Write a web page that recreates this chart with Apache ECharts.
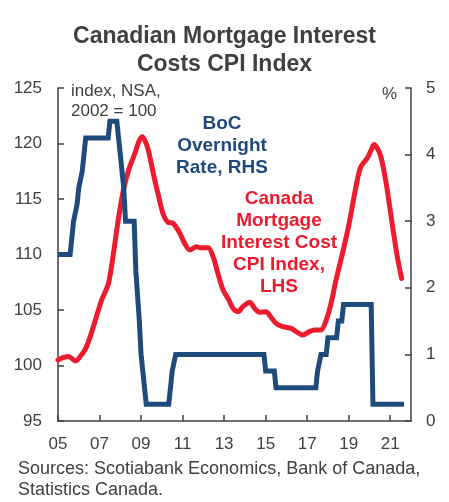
<!DOCTYPE html>
<html>
<head>
<meta charset="utf-8">
<script src="https://cdn.jsdelivr.net/npm/echarts@6/dist/echarts.min.js"></script>
<style>
html,body{margin:0;padding:0;background:#fff;}
#chart{width:449px;height:502px;}
</style>
</head>
<body>
<div id="chart"></div>
<script>
// Canada Mortgage Interest Cost CPI Index (LHS, index 2002=100)
const cpiYears = [2005.0,2005.25,2005.5,2005.85,2006.1,2006.3,2006.55,2006.9,2007.1,2007.43,2007.67,2007.9,2008.15,2008.4,2008.7,2008.9,2009.06,2009.2,2009.35,2009.6,2009.8,2010.07,2010.3,2010.55,2010.87,2011.1,2011.35,2011.67,2011.9,2012.23,2012.47,2012.7,2012.95,2013.2,2013.43,2013.67,2013.9,2014.23,2014.47,2014.7,2015.03,2015.2,2015.5,2015.83,2016.23,2016.47,2016.78,2017.1,2017.35,2017.67,2017.9,2018.15,2018.39,2018.7,2019.02,2019.35,2019.58,2019.9,2020.1,2020.22,2020.4,2020.55,2020.78,2021.02,2021.26,2021.4,2021.55];
const cpiValues = [100.5,100.7,100.8,100.4,100.9,101.4,102.6,104.7,105.9,107.4,110.1,113.1,115.8,117.6,119.1,120.2,120.6,120.2,119.4,117.2,115.6,113.6,112.9,112.8,111.9,111.0,110.4,110.7,110.6,110.6,109.8,108.3,106.8,106.0,105.15,104.85,105.3,105.7,105.15,104.8,104.85,104.5,103.8,103.5,103.35,103.05,102.75,103.05,103.2,103.2,104.0,105.6,107.7,110.1,112.8,116.1,117.9,118.7,119.5,119.9,119.5,118.8,116.7,113.7,110.7,109.2,107.85];

// BoC Overnight Rate (RHS, %)
const bocYears = [2005.0,2005.583,2005.667,2005.75,2005.833,2005.917,2006.0,2006.083,2006.167,2006.25,2006.333,2007.417,2007.5,2007.833,2007.917,2008.0,2008.083,2008.167,2008.25,2008.667,2008.75,2008.833,2008.917,2009.0,2009.083,2009.167,2009.25,2010.333,2010.417,2010.5,2010.583,2010.667,2014.917,2015.0,2015.417,2015.5,2017.417,2017.5,2017.583,2017.667,2017.917,2018.0,2018.417,2018.5,2018.667,2018.75,2020.083,2020.167,2021.667];
const bocValues = [2.5,2.5,2.75,3.0,3.0,3.25,3.5,3.5,3.75,4.0,4.25,4.25,4.5,4.5,4.25,4.0,4.0,3.5,3.0,3.0,2.25,2.25,1.5,1.0,1.0,0.5,0.25,0.25,0.5,0.75,0.75,1.0,1.0,0.75,0.75,0.5,0.5,0.75,0.75,1.0,1.0,1.25,1.25,1.5,1.5,1.75,1.75,0.25,0.25];

const xStartYear = 2005;
const xEndYear = 2022;
const xTickLabels = ['05','07','09','11','13','15','17','19','21'];
const leftTicks = [95,100,105,110,115,120,125];
const rightTicks = [0,1,2,3,4,5];

const RED = '#ED1B2E';
const BLUE = '#1F4A7C';
const GREY = '#404040';
const FF = 'Liberation Sans, Arial, sans-serif';

const cpiData = cpiYears.map((y,i)=>[y - xStartYear, cpiValues[i]]);
const bocData = bocYears.map((y,i)=>[y - xStartYear, bocValues[i]]);

const chart = echarts.init(document.getElementById('chart'), null, {renderer:'canvas'});
const axisFont = {fontFamily:FF, fontSize:17, color:GREY};

chart.setOption({
  animation:false,
  backgroundColor:'#fff',
  title:{
    text:'Canadian Mortgage Interest\nCosts CPI Index',
    left:'center', top:18,
    textStyle:{fontFamily:FF, fontSize:23, fontWeight:'bold', color:GREY, lineHeight:28}
  },
  grid:{left:58, right:38, top:88, bottom:81, containLabel:false},
  xAxis:{
    type:'value', min:0, max:xEndYear - xStartYear, interval:2,
    axisLine:{show:true, onZero:false, lineStyle:{color:GREY, width:1.5}},
    axisTick:{show:true, inside:true, length:6, lineStyle:{color:GREY, width:1.5}},
    axisLabel:{...axisFont, margin:15, showMaxLabel:false,
      formatter:(v)=>{const i=Math.round(v/2); return (Math.abs(v-i*2)<1e-6 && xTickLabels[i]) ? xTickLabels[i] : '';}},
    splitLine:{show:false}
  },
  yAxis:[
    {type:'value', position:'left', min:leftTicks[0], max:leftTicks[leftTicks.length-1], interval:5,
     axisLine:{show:true, lineStyle:{color:GREY, width:1.5}},
     axisTick:{show:true, inside:true, length:6, lineStyle:{color:GREY, width:1.5}},
     axisLabel:{...axisFont, margin:16},
     splitLine:{show:false}},
    {type:'value', position:'right', min:rightTicks[0], max:rightTicks[rightTicks.length-1], interval:1,
     axisLine:{show:true, lineStyle:{color:GREY, width:1.5}},
     axisTick:{show:true, inside:true, length:6, lineStyle:{color:GREY, width:1.5}},
     axisLabel:{...axisFont, margin:15},
     splitLine:{show:false}}
  ],
  series:[
    {name:'Canada Mortgage Interest Cost CPI Index', type:'line', yAxisIndex:0, data:cpiData,
     showSymbol:false, smooth:0.3, lineStyle:{color:RED, width:5, cap:'round', join:'round'}, z:2},
    {name:'BoC Overnight Rate', type:'line', yAxisIndex:1, data:bocData,
     showSymbol:false, smooth:false, lineStyle:{color:BLUE, width:5, join:'miter'}, z:3}
  ],
  graphic:[
    {type:'text', left:71, top:81, style:{text:'index, NSA,\n2002 = 100', font:'17px ' + FF, fill:GREY, lineHeight:20}},
    {type:'text', left:382, top:86, style:{text:'%', font:'17px ' + FF, fill:GREY}},
    {type:'text', x:222, y:113, style:{text:'BoC\nOvernight\nRate, RHS', font:'bold 19px ' + FF, fill:BLUE, align:'center', lineHeight:22}},
    {type:'text', x:279, y:188, style:{text:'Canada\nMortgage\nInterest Cost\nCPI Index,\nLHS', font:'bold 19px ' + FF, fill:RED, align:'center', lineHeight:22}},
    {type:'text', left:18, top:459, style:{text:'Sources: Scotiabank Economics, Bank of Canada,\nStatistics Canada.', font:'18px ' + FF, fill:GREY, lineHeight:21}}
  ]
});
</script>
</body>
</html>
